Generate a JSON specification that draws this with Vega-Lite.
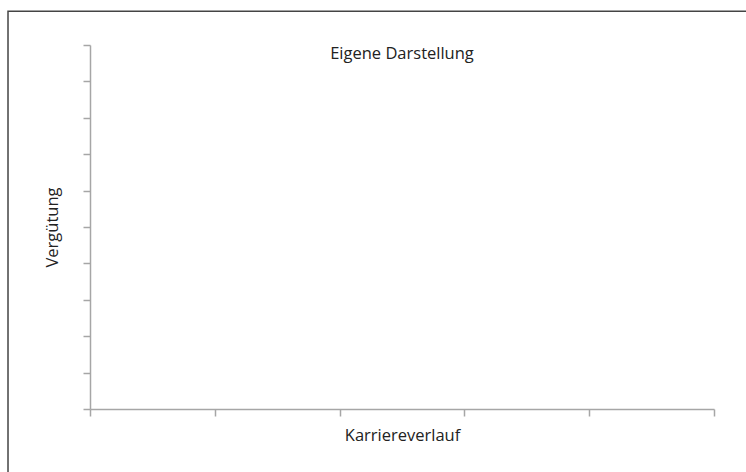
{
  "$schema": "https://vega.github.io/schema/vega-lite/v6.json",
  "width": 624,
  "height": 364,
  "autosize": {"type": "none"},
  "padding": {"left": 90, "top": 45, "right": 32, "bottom": 63},
  "background": "white",
  "config": {
    "view": {"stroke": null},
    "font": "Open Sans",
    "axis": {
      "domainColor": "#a6a6a6",
      "domainWidth": 1.5,
      "tickColor": "#a6a6a6",
      "tickWidth": 1.5,
      "tickSize": 7,
      "labels": false,
      "grid": false,
      "titleFont": "Open Sans",
      "titleFontSize": 16.5,
      "titleFontWeight": "normal",
      "titleColor": "#222222"
    }
  },
  "data": {"values": [{"label": "Eigene Darstellung"}]},
  "layer": [
    {
      "mark": {"type": "text", "baseline": "top", "dy": 1, "fontSize": 16.5, "font": "Open Sans", "color": "#222222"},
      "encoding": {
        "text": {"field": "label"},
        "x": {
          "datum": 2.5,
          "type": "quantitative",
          "scale": {"domain": [0, 5], "nice": false, "zero": false},
          "axis": {"values": [0, 1, 2, 3, 4, 5], "tickCount": 20, "title": "Karriereverlauf", "titlePadding": 11}
        },
        "y": {
          "datum": 10,
          "type": "quantitative",
          "scale": {"domain": [0, 10], "nice": false, "zero": false},
          "axis": {"values": [0, 1, 2, 3, 4, 5, 6, 7, 8, 9, 10], "tickCount": 20, "title": "Vergütung", "titlePadding": 22}
        }
      }
    },
    {
      "mark": {"type": "rect", "filled": false, "stroke": "#444444", "strokeWidth": 1.5, "clip": false},
      "encoding": {
        "x": {
          "datum": -0.657,
          "type": "quantitative",
          "scale": {"domain": [0, 5], "nice": false, "zero": false},
          "axis": {"values": [0, 1, 2, 3, 4, 5], "tickCount": 20, "title": "Karriereverlauf", "titlePadding": 11}
        },
        "x2": {"datum": 5.4},
        "y": {
          "datum": 10.93,
          "type": "quantitative",
          "scale": {"domain": [0, 10], "nice": false, "zero": false},
          "axis": {"values": [0, 1, 2, 3, 4, 5, 6, 7, 8, 9, 10], "tickCount": 20, "title": "Vergütung", "titlePadding": 22}
        },
        "y2": {"datum": -2.5}
      }
    }
  ]
}
